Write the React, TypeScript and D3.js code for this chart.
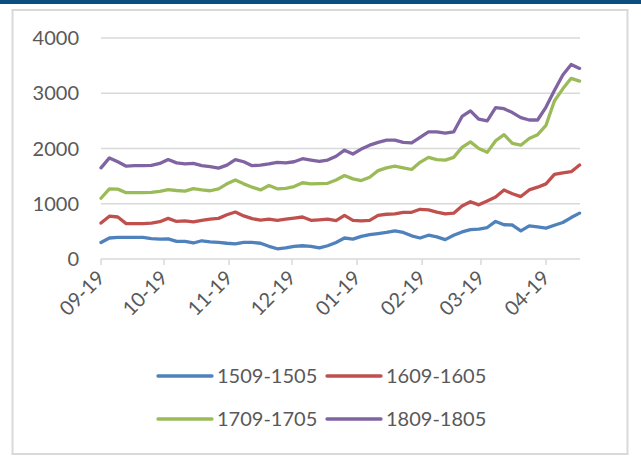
import React, { useEffect, useRef } from 'react';
import * as d3 from 'd3';

const seriesNames = ['1509-1505', '1609-1605', '1709-1705', '1809-1805'];
const colors = ['#4F81BD', '#C0504D', '#9BBB59', '#8064A2'];

// one sample every 4 days starting 1 Sep
const startDate = new Date(2018, 8, 1);
const stepDays = 4;

const s1509 = [300, 380, 392, 390, 390, 390, 370, 360, 365, 320, 320, 290, 330, 310, 300, 285, 275, 300, 300, 285,
  230, 185, 200, 230, 240, 230, 200, 240, 300, 380, 360, 410, 440, 460, 480, 510, 480, 420, 380, 430,
  400, 350, 430, 490, 530, 540, 570, 680, 620, 615, 510, 600, 580, 560, 610, 660, 750, 830];
const s1609 = [650, 775, 760, 640, 640, 640, 650, 675, 735, 680, 690, 670, 700, 720, 735, 800, 850, 780, 730, 705,
  720, 700, 720, 740, 760, 700, 710, 720, 695, 790, 700, 690, 700, 790, 810, 815, 845, 845, 900, 890,
  850, 815, 830, 960, 1037, 980, 1050, 1120, 1250, 1180, 1130, 1250, 1300, 1360, 1530, 1560, 1580, 1700];
const s1709 = [1100, 1270, 1265, 1200, 1200, 1200, 1205, 1225, 1255, 1240, 1230, 1275, 1250, 1235, 1270, 1360, 1430, 1360, 1300, 1250,
  1330, 1270, 1280, 1310, 1380, 1360, 1365, 1370, 1430, 1510, 1450, 1420, 1480, 1600, 1650, 1680, 1650, 1620, 1750, 1840,
  1800, 1790, 1840, 2020, 2120, 2000, 1930, 2140, 2250, 2094, 2060, 2180, 2250, 2420, 2860, 3080, 3270, 3220];
const s1809 = [1650, 1830, 1760, 1680, 1690, 1690, 1695, 1730, 1800, 1740, 1720, 1730, 1690, 1670, 1645, 1700, 1800, 1760, 1690, 1700,
  1720, 1750, 1740, 1760, 1815, 1790, 1765, 1790, 1860, 1970, 1900, 1990, 2060, 2110, 2150, 2150, 2110, 2100, 2200, 2300,
  2300, 2280, 2300, 2580, 2680, 2530, 2500, 2740, 2720, 2650, 2560, 2516, 2516, 2750, 3050, 3330, 3520, 3450];

const seriesValues = [s1509, s1609, s1709, s1809];

const yTicks = [0, 1000, 2000, 3000, 4000];
const xTickLabels = ['09-19', '10-19', '11-19', '12-19', '01-19', '02-19', '03-19', '04-19'];
const xTickDates = [
  new Date(2018, 8, 1), new Date(2018, 9, 1), new Date(2018, 10, 1), new Date(2018, 11, 1),
  new Date(2019, 0, 1), new Date(2019, 1, 1), new Date(2019, 2, 1), new Date(2019, 3, 1),
];

const App = () => {
  const ref = useRef(null);

  useEffect(() => {
    const width = 641;
    const height = 459;
    const font = 'Lato, sans-serif';

    const svg = d3.select(ref.current);
    svg.selectAll('*').remove();

    svg.append('rect').attr('width', width).attr('height', height).attr('fill', '#fff');
    svg.append('rect').attr('x', 0).attr('y', 0).attr('width', width).attr('height', 4).attr('fill', '#0B4F80');
    svg.append('rect')
      .attr('x', 12.5).attr('y', 10).attr('width', 615).attr('height', 444)
      .attr('fill', 'none').attr('stroke', '#D9D9D9').attr('stroke-width', 2);

    const dates = s1509.map((_, i) => d3.timeDay.offset(startDate, i * stepDays));

    const x = d3.scaleTime()
      .domain([startDate, new Date(2019, 3, 1)])
      .range([101, 546]);
    const y = d3.scaleLinear().domain([0, 4000]).range([259, 38]);

    // gridlines
    svg.append('g').selectAll('line')
      .data(yTicks.filter((t) => t > 0))
      .join('line')
      .attr('x1', 101).attr('x2', 580)
      .attr('y1', (d) => y(d)).attr('y2', (d) => y(d))
      .attr('stroke', '#D9D9D9').attr('stroke-width', 1.5);

    svg.append('g').selectAll('text')
      .data(yTicks)
      .join('text')
      .attr('x', 79).attr('y', (d) => y(d) + 7)
      .attr('text-anchor', 'end')
      .attr('font-family', font).attr('font-size', 20).attr('fill', '#595959')
      .text((d) => d);

    // x axis
    svg.append('line')
      .attr('x1', 101).attr('x2', 580).attr('y1', y(0)).attr('y2', y(0))
      .attr('stroke', '#D9D9D9').attr('stroke-width', 1.5);
    svg.append('g').selectAll('line')
      .data(xTickDates)
      .join('line')
      .attr('x1', (d) => x(d)).attr('x2', (d) => x(d))
      .attr('y1', y(0)).attr('y2', y(0) + 6)
      .attr('stroke', '#D9D9D9').attr('stroke-width', 1.5);
    svg.append('g').selectAll('text')
      .data(xTickDates)
      .join('text')
      .attr('transform', (d) => `translate(${x(d) + 5},${y(0) + 20}) rotate(-45)`)
      .attr('text-anchor', 'end')
      .attr('font-family', font).attr('font-size', 20).attr('fill', '#595959')
      .text((_, i) => xTickLabels[i]);

    const line = d3.line()
      .x((_, i) => x(dates[i]))
      .y((d) => y(d));

    seriesValues.forEach((vals, k) => {
      svg.append('path')
        .datum(vals)
        .attr('d', line)
        .attr('fill', 'none')
        .attr('stroke', colors[k])
        .attr('stroke-width', 3.3)
        .attr('stroke-linejoin', 'round')
        .attr('stroke-linecap', 'round');
    });

    // legend
    const legendPos = [[158, 376], [327, 376], [158, 419], [327, 419]];
    seriesNames.forEach((name, k) => {
      const [lx, ly] = legendPos[k];
      svg.append('line')
        .attr('x1', lx).attr('x2', lx + 54).attr('y1', ly).attr('y2', ly)
        .attr('stroke', colors[k]).attr('stroke-width', 3.3).attr('stroke-linecap', 'round');
      svg.append('text')
        .attr('x', lx + 59).attr('y', ly + 7)
        .attr('font-family', font).attr('font-size', 20).attr('fill', '#595959')
        .text(name);
    });
  }, []);

  return <svg ref={ref} width={641} height={459} style={{ position: 'absolute', left: 0, top: 0 }} />;
};

export default App;
